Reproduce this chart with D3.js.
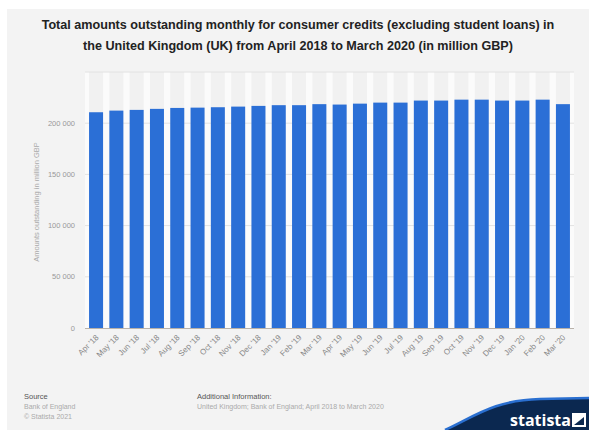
<!DOCTYPE html>
<html>
<head>
<meta charset="utf-8">
<script src="https://cdn.jsdelivr.net/npm/d3@7"></script>
<style>
  body { margin: 0; background: #fff; }
  svg { display: block; font-family: "Liberation Sans", Arial, sans-serif; }
</style>
</head>
<body>
<svg width="589" height="430"></svg>
<script>
const months = ["Apr '18","May '18","Jun '18","Jul '18","Aug '18","Sep '18","Oct '18","Nov '18","Dec '18","Jan '19","Feb '19","Mar '19",
                "Apr '19","May '19","Jun '19","Jul '19","Aug '19","Sep '19","Oct '19","Nov '19","Dec '19","Jan '20","Feb '20","Mar '20"];
const amounts = [210700, 212300, 213000, 214000, 214900, 215200, 215600, 216200, 216900, 217600, 217600, 218600,
                 218200, 219100, 220100, 220100, 222100, 222100, 223000, 223000, 222100, 222100, 223000, 218600];
const yTicks = [0, 50000, 100000, 150000, 200000, 250000];

const svg = d3.select("svg"),
      width = +svg.attr("width"),
      height = +svg.attr("height");

const margin = {top: 72, right: 15, bottom: 102, left: 85};
const chartWidth = width - margin.left - margin.right;
const chartHeight = height - margin.top - margin.bottom;

// panel background
svg.append("rect").attr("x", 7).attr("y", 9).attr("width", width - 7).attr("height", height - 9).attr("fill", "#f3f3f3");

// title
const title = svg.append("text")
  .attr("x", 298).attr("y", 29)
  .attr("text-anchor", "middle")
  .attr("font-size", 12.6).attr("font-weight", "bold").attr("fill", "#222");
title.append("tspan").attr("x", 298).text("Total amounts outstanding monthly for consumer credits (excluding student loans) in");
title.append("tspan").attr("x", 298).attr("dy", 21).text("the United Kingdom (UK) from April 2018 to March 2020 (in million GBP)");

const g = svg.append("g").attr("transform", `translate(${margin.left},${margin.top})`);

const x = d3.scaleBand().domain(months).range([0, chartWidth]).paddingInner(0.31).paddingOuter(0.2);
const y = d3.scaleLinear().domain([0, 250000]).range([chartHeight, 0]);

// plot background: white gaps, grey columns behind bars
g.append("rect").attr("width", chartWidth).attr("height", chartHeight).attr("fill", "#fbfbfb");
g.selectAll("rect.col").data(months).enter().append("rect")
  .attr("class", "col")
  .attr("x", d => x(d)).attr("y", 0)
  .attr("width", x.bandwidth()).attr("height", chartHeight)
  .attr("fill", "#f1f1f1");

// gridlines
g.selectAll("line.grid").data(yTicks.slice(1)).enter().append("line")
  .attr("class", "grid")
  .attr("x1", 0).attr("x2", chartWidth)
  .attr("y1", d => y(d)).attr("y2", d => y(d))
  .attr("stroke", "#e2e2e2").attr("stroke-width", 1);

// y tick labels
const fmt = d => d3.format(",")(d).replace(/,/g, " ");
g.selectAll("text.ytick").data(yTicks.slice(0, -1)).enter().append("text")
  .attr("class", "ytick")
  .attr("x", -10).attr("y", d => y(d)).attr("dy", "0.35em")
  .attr("text-anchor", "end").attr("font-size", 7.5).attr("fill", "#999")
  .text(fmt);

// y axis title
svg.append("text")
  .attr("transform", "translate(39,202) rotate(-90)")
  .attr("text-anchor", "middle").attr("font-size", 7.5).attr("fill", "#aaa")
  .text("Amounts outstanding in million GBP");

// bars
g.selectAll("rect.bar").data(amounts).enter().append("rect")
  .attr("class", "bar")
  .attr("x", (d, i) => x(months[i]))
  .attr("y", d => y(d))
  .attr("width", x.bandwidth())
  .attr("height", d => chartHeight - y(d))
  .attr("fill", "#2b6fd6");

// baseline
g.append("line").attr("x1", 0).attr("x2", chartWidth)
  .attr("y1", chartHeight + 0.5).attr("y2", chartHeight + 0.5)
  .attr("stroke", "#b9b2aa").attr("stroke-width", 1);

// x labels
g.selectAll("text.xtick").data(months).enter().append("text")
  .attr("class", "xtick")
  .attr("transform", d => `translate(${x(d) + x.bandwidth() / 2 + 3},${chartHeight + 10}) rotate(-45)`)
  .attr("text-anchor", "end").attr("font-size", 8).attr("fill", "#888")
  .text(d => d);

// footer
svg.append("text").attr("x", 24).attr("y", 399).attr("font-size", 7.5).attr("fill", "#555").text("Source");
svg.append("text").attr("x", 24).attr("y", 409).attr("font-size", 7).attr("fill", "#aaa").text("Bank of England");
svg.append("text").attr("x", 24).attr("y", 419).attr("font-size", 7).attr("fill", "#aaa").text("© Statista 2021");
svg.append("text").attr("x", 197).attr("y", 399).attr("font-size", 7.5).attr("fill", "#555").text("Additional Information:");
svg.append("text").attr("x", 197).attr("y", 409).attr("font-size", 7).attr("fill", "#aaa").text("United Kingdom; Bank of England; April 2018 to March 2020");

// statista logo swoosh
svg.append("path")
  .attr("d", "M445,430 C475,416 495,400 540,399 L589,398 L589,430 Z")
  .attr("fill", "#0b2850");
svg.append("path")
  .attr("d", "M445,430 C475,416 495,400 540,399 L589,398")
  .attr("fill", "none").attr("stroke", "#2a6fd0").attr("stroke-width", 2.5);
svg.append("text").attr("x", 510).attr("y", 426).attr("font-size", 16).attr("font-weight", "bold")
  .attr("fill", "#fff").attr("font-family", "'Open Sans', sans-serif").text("statista");
svg.append("path")
  .attr("d", "M572,413 L586,413 L586,427 L572,427 Z M574,425 L584,417 L584,425 Z")
  .attr("fill", "#fff").attr("fill-rule", "evenodd");
</script>
</body>
</html>
